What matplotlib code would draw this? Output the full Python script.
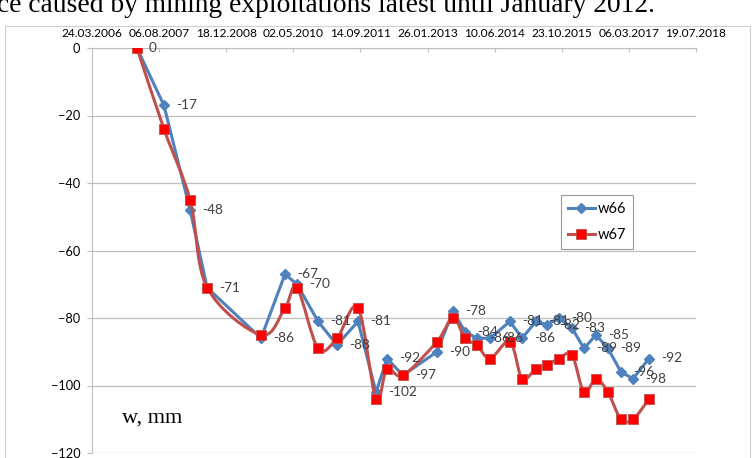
import numpy as np
import matplotlib
matplotlib.use("Agg")
import matplotlib.pyplot as plt
import matplotlib.dates as mdates
from matplotlib.path import Path
from matplotlib.patches import PathPatch, Rectangle
from matplotlib.lines import Line2D

dates = ["2007-02-22", "2007-09-11", "2008-03-24", "2008-07-29", "2009-09-03",
         "2010-03-01", "2010-05-29", "2010-11-02", "2011-03-23", "2011-08-27",
         "2012-01-08", "2012-03-30", "2012-07-27", "2013-04-06", "2013-08-04",
         "2013-11-01", "2014-01-29", "2014-05-06", "2014-10-02", "2014-12-31",
         "2015-04-14", "2015-07-05", "2015-10-02", "2016-01-07", "2016-04-06",
         "2016-07-04", "2016-10-01", "2017-01-06", "2017-04-06", "2017-08-03"]

# subsidence in mm
w66 = [0, -17, -48, -71, -86, -67, -70, -81, -88, -81, -102, -92, -97, -90, -78,
       -84, -86, -86, -81, -86, -81, -82, -80, -83, -89, -85, -89, -96, -98, -92]
w67 = [0, -24, -45, -71, -85, -77, -71, -89, -86, -77, -104, -95, -97, -87, -80,
       -86, -88, -92, -87, -98, -95, -94, -92, -91, -102, -98, -102, -110, -110, -104]

axis_start = "2006-03-24"
tick_step_days = 500
n_ticks = 10
y_ticks = [0, -20, -40, -60, -80, -100, -120]

blue = "#4F81BD"
red_line = "#C0504D"
red_mark = "#FF0000"
grid_c = "#BFBFBF"
label_c = "#404040"

x = mdates.datestr2num(dates)
x0 = mdates.datestr2num(axis_start)
xticks = [x0 + k * tick_step_days for k in range(n_ticks)]

fig = plt.figure(figsize=(7.53, 4.58), dpi=100)

# cut-off line of text from the page above the chart
fig.text(-0.004, 1 - 12 / 458, "ce caused by mining exploitations latest until January 2012.",
         family="Liberation Serif", fontsize=19.8, va="baseline", ha="left", color="black")

# chart area border
fig.patches.append(Rectangle((5 / 753, -0.05), 745 / 753, 1 - 26 / 458 + 0.05,
                             transform=fig.transFigure, fill=False,
                             edgecolor="#D0D0D0", lw=0.8))

ax = fig.add_axes([92 / 753, 1 - 453 / 458, 604 / 753, 405 / 458])
ax.set_xlim(xticks[0], xticks[-1])
ax.set_ylim(-120, 0)

ax.set_xticks(xticks)
ax.xaxis.set_major_formatter(mdates.DateFormatter("%d.%m.%Y"))
ax.xaxis.tick_top()
ax.set_yticks(y_ticks)
ax.yaxis.grid(True, color=grid_c, lw=0.9)
ax.set_axisbelow(True)
for s in ["right", "bottom"]:
    ax.spines[s].set_visible(False)
ax.spines["left"].set_color(grid_c)
ax.spines["top"].set_color(grid_c)
ax.tick_params(axis="x", direction="in", length=3, color=grid_c, pad=6.5,
               labelsize=8.6, labelcolor="black")
ax.tick_params(axis="y", direction="out", length=3.5, color=grid_c, pad=5,
               labelsize=9.2, labelcolor="black")
for lab in ax.get_xticklabels() + ax.get_yticklabels():
    lab.set_family("Lato")

# w66 straight line with diamonds
ax.plot(x, w66, color=blue, lw=2.2, marker="D", ms=5.2, mfc=blue, mec=blue, zorder=3)

# w67 smoothed line (Catmull-Rom style bezier as in spreadsheet "smoothed line")
n = len(x)
xv = np.asarray(x, float)
yv = np.asarray(w67, float)
verts = [(xv[0], yv[0])]
codes = [Path.MOVETO]
for i in range(n - 1):
    a = i - 1 if i > 0 else i
    d = i + 2 if i + 2 < n else i + 1
    c1 = (xv[i] + (xv[i + 1] - xv[a]) / 6, yv[i] + (yv[i + 1] - yv[a]) / 6)
    c2 = (xv[i + 1] - (xv[d] - xv[i]) / 6, yv[i + 1] - (yv[d] - yv[i]) / 6)
    verts += [c1, c2, (xv[i + 1], yv[i + 1])]
    codes += [Path.CURVE4] * 3
ax.add_patch(PathPatch(Path(verts, codes), fill=False, edgecolor=red_line, lw=2.2, zorder=4))
ax.plot(x, w67, ls="none", marker="s", ms=7.2, mfc=red_mark, mec=red_line, mew=0.6, zorder=5)

# data labels for w66
for xi, v in zip(x, w66):
    ax.annotate(str(v), (xi, v), xytext=(8.5, 0), textcoords="offset points",
                va="center", ha="left", fontsize=9.8, color=label_c, family="Lato",
                zorder=6)

handles = [Line2D([], [], color=blue, lw=2.2, marker="D", ms=5.2),
           Line2D([], [], color=red_line, lw=2.2, marker="s", ms=7.2,
                  mfc=red_mark, mec=red_line, mew=0.6)]
leg = fig.legend(handles, ["w66", "w67"], loc="upper left",
                 bbox_to_anchor=(561 / 753, 1 - 195 / 458),
                 frameon=True, fancybox=False, edgecolor="#7F7F7F",
                 prop={"family": "Lato", "size": 10.5}, handlelength=1.8,
                 handletextpad=0.2, borderpad=0.5, labelspacing=0.8,
                 borderaxespad=0)
leg.get_frame().set_linewidth(0.8)

fig.text(122 / 753, 1 - 418 / 458, "w, mm", family="Liberation Serif", fontsize=16,
         va="center", ha="left")

fig.savefig("out.png", dpi=100)
